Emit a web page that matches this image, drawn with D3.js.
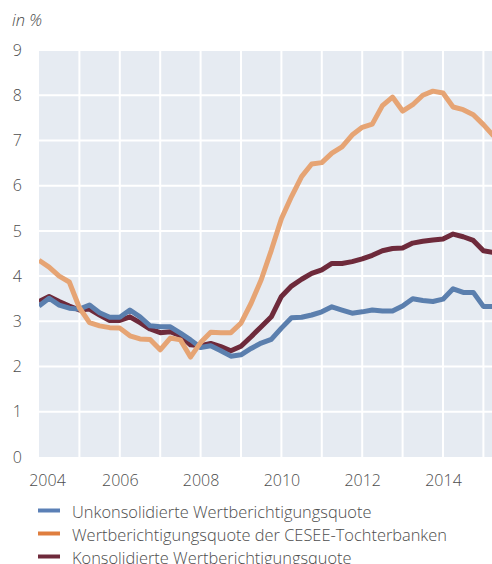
<!DOCTYPE html>
<html>
<head>
<meta charset="utf-8">
<script src="https://cdn.jsdelivr.net/npm/d3@7"></script>
<style>
  body { margin: 0; background: #fff; }
  svg { display: block; }
  text { font-family: "Open Sans", "Lato", sans-serif; font-weight: 300; fill: #4d4d4d; }
</style>
</head>
<body>
<svg width="492" height="564"></svg>
<script>
// quarterly observations, 2004 Q1 .. 2015 Q2
const quarters = d3.range(46).map(k => 2004 + k * 0.25);

const unkonsolidiert = [
  3.34, 3.51, 3.36, 3.29, 3.27, 3.36, 3.19, 3.09, 3.09, 3.25, 3.10, 2.90,
  2.88, 2.88, 2.74, 2.59, 2.42, 2.46, 2.35, 2.23, 2.26, 2.40, 2.52, 2.60,
  2.85, 3.08, 3.09, 3.14, 3.21, 3.32, 3.25, 3.18, 3.21, 3.25, 3.23, 3.23,
  3.34, 3.50, 3.46, 3.44, 3.49, 3.72, 3.64, 3.64, 3.33, 3.33
];
const cesee = [
  4.35, 4.20, 4.00, 3.87, 3.30, 2.97, 2.90, 2.86, 2.85, 2.68, 2.61, 2.60,
  2.37, 2.63, 2.59, 2.21, 2.53, 2.76, 2.75, 2.75, 2.96, 3.40, 3.92, 4.57,
  5.27, 5.76, 6.20, 6.48, 6.51, 6.72, 6.86, 7.12, 7.29, 7.36, 7.77, 7.96,
  7.65, 7.79, 8.00, 8.09, 8.05, 7.74, 7.68, 7.57, 7.35, 7.10
];
const konsolidiert = [
  3.44, 3.55, 3.44, 3.34, 3.25, 3.27, 3.14, 3.02, 3.02, 3.10, 2.97, 2.83,
  2.75, 2.77, 2.68, 2.48, 2.46, 2.51, 2.44, 2.35, 2.45, 2.66, 2.88, 3.10,
  3.55, 3.78, 3.93, 4.06, 4.14, 4.28, 4.28, 4.32, 4.38, 4.46, 4.56, 4.61,
  4.62, 4.73, 4.77, 4.80, 4.82, 4.93, 4.87, 4.79, 4.56, 4.52
];

const seriesNames = [
  "Unkonsolidierte Wertberichtigungsquote",
  "Wertberichtigungsquote der CESEE-Tochterbanken",
  "Konsolidierte Wertberichtigungsquote"
];
const lineColors = ["#5b7fae", "#e6a474", "#6e2a3b"];
const legendColors = ["#5b80b6", "#df7e3e", "#6e2a3b"];

const yTicks = d3.range(0, 10);
const xTicks = [2004, 2006, 2008, 2010, 2012, 2014];
const gridYears = d3.range(2004, 2016);

const plotLeft = 39, plotRight = 493.5, plotTop = 50, plotBottom = 457;

const svg = d3.select("svg");

const x = d3.scaleLinear().domain([2004, 2015.25]).range([plotLeft, plotRight]);
const y = d3.scaleLinear().domain([0, 9]).range([plotBottom, plotTop]);

svg.append("defs").append("clipPath").attr("id", "plot")
  .append("rect")
  .attr("x", plotLeft).attr("y", plotTop - 5)
  .attr("width", 492 - plotLeft).attr("height", plotBottom - plotTop + 10);

// background
svg.append("rect")
  .attr("x", plotLeft).attr("y", plotTop)
  .attr("width", 492 - plotLeft).attr("height", plotBottom - plotTop)
  .style("fill", "#e6ebf2");

// grid
svg.append("g").selectAll("line")
  .data(yTicks.slice(1))
  .enter().append("line")
  .attr("x1", plotLeft).attr("x2", 492)
  .attr("y1", d => y(d)).attr("y2", d => y(d))
  .style("stroke", "#fff").style("stroke-width", 2);

svg.append("g").selectAll("line")
  .data(gridYears.slice(1))
  .enter().append("line")
  .attr("x1", d => x(d)).attr("x2", d => x(d))
  .attr("y1", plotTop).attr("y2", plotBottom)
  .style("stroke", "#fff").style("stroke-width", 2);

// axes
const yAxis = svg.append("g")
  .attr("transform", `translate(${plotLeft},0)`)
  .call(d3.axisLeft(y).tickValues(yTicks).tickSize(0).tickPadding(17));
yAxis.select(".domain").remove();
yAxis.selectAll("text")
  .style("font-size", "16px");
yAxis.attr("font-family", null).attr("font-size", null);

const xAxis = svg.append("g")
  .attr("transform", `translate(0,${plotBottom})`)
  .call(d3.axisBottom(x).tickValues(xTicks).tickFormat(d3.format("d")).tickSize(0).tickPadding(18));
xAxis.select(".domain").remove();
xAxis.selectAll("text")
  .style("font-size", "16px");
xAxis.attr("font-family", null).attr("font-size", null);
xAxis.selectAll(".tick").filter(d => d === 2004).select("text").attr("x", 8);

svg.append("text")
  .attr("x", 12).attr("y", 26)
  .style("font-size", "16.5px").style("font-style", "italic")
  .text("in %");

// lines
const line = d3.line()
  .x((d, i) => x(quarters[i]))
  .y(d => y(d));

const series = [unkonsolidiert, cesee, konsolidiert];
const drawOrder = [2, 0, 1];

svg.append("g").attr("clip-path", "url(#plot)")
  .selectAll("path")
  .data(drawOrder)
  .enter().append("path")
  .attr("d", k => line(series[k]))
  .style("fill", "none")
  .style("stroke", k => lineColors[k])
  .style("stroke-width", 5)
  .style("stroke-linejoin", "round");

// legend
const legend = svg.append("g").selectAll("g")
  .data(seriesNames)
  .enter().append("g")
  .attr("transform", (d, i) => `translate(38,${510.5 + i * 23})`);

legend.append("line")
  .attr("x1", 0).attr("x2", 22)
  .style("stroke", (d, i) => legendColors[i])
  .style("stroke-width", 4);

legend.append("text")
  .attr("x", 34).attr("y", 7)
  .style("font-size", "16.4px")
  .text(d => d);
</script>
</body>
</html>
